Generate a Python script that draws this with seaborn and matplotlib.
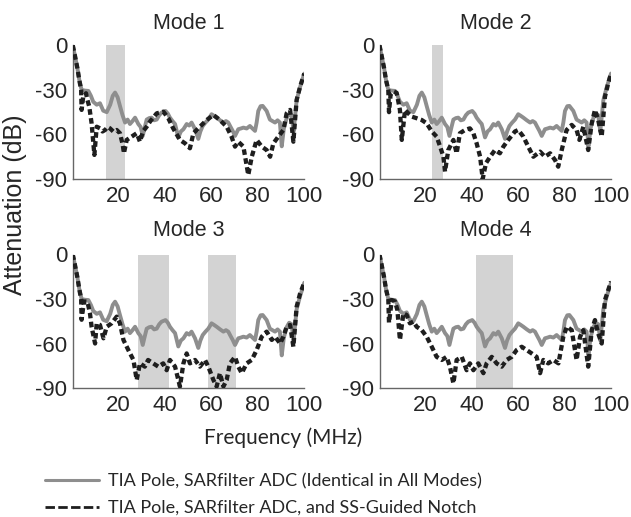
import numpy as np
import pandas as pd
import seaborn as sns
import matplotlib.pyplot as plt
from matplotlib.lines import Line2D

# gray curve: TIA pole + SARfilter ADC, same in every mode
ref_freq = [0.4, 1.4, 2.4, 3.2, 4.2, 5.6, 7.1, 8.2, 9.2, 10.7, 12.1, 13.5, 15, 16.5, 17.6, 18.6,
            19.7, 20.7, 21.8, 22.9, 24, 25, 26.1, 27.2, 28.6, 29.6, 30.5, 31.4, 32.2, 33.3, 34.3,
            35.4, 36.5, 37.6, 38.6, 40.3, 41.3, 42.2, 43.3, 44.4, 45.8, 46.9, 48, 49.4, 50.5,
            51.5, 53, 54.4, 55.3, 56.3, 57.5, 58.7, 60.1, 61.2, 62.3, 63.8, 65.2, 66.3, 67.3,
            68.3, 69.2, 70.2, 71.6, 72.7, 73.8, 75.2, 76.6, 77.7, 78.8, 79.5, 80.2, 81.2, 82.1,
            83.8, 85.2, 86.3, 87.4, 88.5, 89.5, 90.3, 91.2, 92.4, 93.5, 94.5, 95.4, 96.7, 98.2, 100]
ref_atten = [0, -7.6, -15.5, -23.3, -30, -30.5, -30.7, -34, -38, -40, -39, -44, -45, -40, -34, -31.8,
             -35, -40.8, -47, -52, -50, -53, -51, -48.7, -53, -55, -61, -55, -50, -49, -48.7,
             -50.5, -50, -47, -45.3, -44.2, -46, -48.7, -51, -53, -62, -58, -56.5, -53, -54,
             -52, -56.5, -63, -58, -54.3, -52, -50, -46.4, -47.5, -48.7, -50.5, -52, -51, -52,
             -55, -57.6, -61, -56.5, -56, -55.4, -56, -54.3, -56, -57.6, -52, -44.2, -41, -40.8,
             -44.2, -50, -51, -52, -50.5, -52, -68, -56, -49, -46, -47, -58, -37, -28, -19]

# black dashed curves: with SS-guided notch
mode1_freq = [0.4, 1.4, 2.4, 3.2, 4, 4.2, 4.9, 6.1, 6.7, 7.5, 8.5, 9.7, 10.7, 12.1, 13.2, 14.3, 15.4,
              16.4, 17.8, 19.3, 20.7, 21.9, 22.4, 23.6, 25.7, 27.9, 29.3, 30.6, 32.2, 33.6, 36.5,
              39.4, 41.5, 43.6, 46.5, 48.7, 50.8, 52.3, 55.1, 58, 60.9, 63.7, 66.6, 68.7, 70.2,
              71.6, 73.8, 75.9, 77.4, 79.5, 81.7, 83.8, 85.3, 86.7, 88.8, 91, 92.4, 93.9, 95.3,
              96.7, 98.2, 100]
mode1_atten = [0, -7.6, -15.5, -23.3, -30, -43.5, -34.6, -32.3, -36.8, -41.3, -52.5, -73.8, -54.8,
               -55.9, -58, -57, -55, -55.9, -58, -57, -59.2, -67, -72.7, -63.7, -61.5, -59.2, -64.9,
               -58, -54.8, -51.4, -45.8, -44.7, -49.1, -55.9, -63.7, -66, -69.3, -59.2, -54.8,
               -50.3, -46.9, -50.3, -54.8, -61.5, -68.2, -64.9, -68.2, -87.3, -75, -63.7, -68.2,
               -70.5, -75, -66, -61.5, -57, -45.8, -43.5, -64.9, -36.8, -27.8, -19]

mode2_freq = [0.4, 1.4, 2.4, 3.2, 4.2, 4.5, 5.2, 6.4, 7.8, 9.2, 10, 11.4, 12.8, 14.3, 16.4, 18.6, 20.7,
              22.9, 25, 26.5, 27.9, 28.6, 30, 32.2, 33.6, 35, 37.2, 39.3, 40.8, 42.2, 43.7, 44.8,
              46.2, 48, 50.1, 52.2, 53.7, 55.8, 58.7, 60.1, 62.3, 64.4, 66.6, 69.5, 71.6, 73.8,
              75.9, 77.3, 78.8, 80.9, 83.1, 85.2, 86.4, 88.1, 90.2, 91.7, 93.1, 94.5, 96, 97.4,
              98.8, 100]
mode2_atten = [0, -7.6, -15.5, -23.3, -30, -45, -33, -31, -32, -43.5, -63.7, -43.5, -45.8, -48, -49.1,
               -50.3, -52.5, -58, -61.5, -68.2, -75, -85, -70.5, -63.7, -72.7, -59.2, -57, -55.9,
               -59.2, -66, -75, -90, -79.4, -75, -70.5, -72.7, -68.2, -63.7, -58, -57, -61.5,
               -68.2, -75, -71.6, -75, -72.7, -77.2, -81.7, -70.5, -57, -53.6, -57, -63.7, -54.8,
               -70.5, -52.5, -43.5, -50.3, -61.5, -34.6, -25.6, -19]

mode3_freq = [0.4, 1.4, 2.4, 3.2, 4, 4.2, 5.2, 6.7, 7.8, 8.5, 10, 10.7, 12.1, 13.6, 15, 17.1, 19.3,
              20.7, 22.2, 24.3, 26.5, 27.9, 29.3, 31.4, 32.8, 35, 37.2, 39.3, 40.8, 42.2, 44.4,
              46.5, 48, 49.4, 50.8, 53, 55.1, 57.3, 58.7, 60.9, 62.3, 63.7, 65.2, 66.6, 68, 70.2,
              71.6, 73.1, 75.2, 77.4, 79.5, 81.7, 83.8, 86, 87.4, 89.6, 91, 92.4, 93.9, 95.3,
              96.7, 98.2, 100]
mode3_atten = [0, -7.6, -15.5, -23.3, -30, -44, -31.7, -31.7, -39.7, -48.7, -60, -46.4, -47.5, -56.5,
               -48.7, -46.4, -41.9, -46.4, -57.6, -64.4, -71.1, -84.6, -73.4, -75.6, -71.1, -73.4,
               -75.6, -73.4, -78, -71.1, -75.6, -89, -73.4, -66.7, -73.4, -71.1, -75.6, -71.1,
               -75.6, -84.6, -89, -80, -89, -84.6, -73.4, -69, -75.6, -80, -73.4, -71.1, -64.4,
               -55.4, -52, -57.6, -55.4, -60, -55.4, -48.7, -47.5, -62.2, -35.2, -26.2, -19]

mode4_freq = [0.4, 1.4, 2.4, 3.2, 4.2, 4.5, 5.7, 7.1, 8.1, 9.2, 10.7, 12.1, 13.5, 15, 16.4, 18.6, 20.7,
              22.9, 25, 27.2, 29.3, 30.7, 32.2, 33.6, 35.8, 37.9, 39.3, 40.8, 42.9, 45.1, 46.5,
              48.7, 50.8, 53, 55.1, 57.3, 59.4, 61.6, 63.7, 65.9, 68, 69.5, 70.9, 73, 75.2, 77.4,
              79.5, 81, 83.1, 85.2, 86.7, 88.1, 90.2, 91.7, 93.1, 94.5, 96, 97.4, 98.8, 100]
mode4_atten = [0, -7.6, -15.5, -23.3, -30, -46, -30.7, -31.7, -37.4, -57.6, -39.7, -40.8, -46.4, -45.3,
               -48.7, -51, -55.4, -62.2, -69, -71.1, -69, -75.6, -86.9, -71.1, -69, -78, -73.4,
               -78, -73.4, -80, -73.4, -69, -73.4, -75.6, -71.1, -69, -64.4, -62.2, -64.4, -66.7,
               -69, -80, -71.1, -73.4, -71.1, -73.4, -55.4, -48.7, -51, -71.1, -55.4, -51, -75.6,
               -51, -44.2, -53.3, -60, -30.7, -24, -18.3]

mode_names = ["Mode 1", "Mode 2", "Mode 3", "Mode 4"]
notch_freqs = [[(14.7, 22.9)], [(22.9, 27.9)], [(28.6, 41.9), (58.7, 70.5)], [(41.9, 58.0)]]
notch_series = [(mode1_freq, mode1_atten), (mode2_freq, mode2_atten),
                (mode3_freq, mode3_atten), (mode4_freq, mode4_atten)]

sns.set_style("white")
plt.rcParams["font.family"] = ["Liberation Sans", "DejaVu Sans"]
plt.rcParams["axes.unicode_minus"] = False

fig = plt.figure(figsize=(6.31, 5.17), dpi=100)
W, H = 631, 517
# axes boxes in pixels: left, top, right, bottom
boxes = [(73, 45.3, 304.3, 179), (379.7, 45.3, 611, 179),
         (73, 254.5, 304.3, 388), (379.7, 254.5, 611, 388)]

ref_df = pd.DataFrame({"freq": ref_freq, "atten": ref_atten})
gray = "#8e8e8e"
ink = "#1e1e1e"

for i, name in enumerate(mode_names):
    l, t, r, b = boxes[i]
    ax = fig.add_axes([l / W, 1 - b / H, (r - l) / W, (b - t) / H])
    for lo, hi in notch_freqs[i]:
        ax.axvspan(lo, hi, color="#d3d3d3", lw=0, zorder=0)
    sns.lineplot(data=ref_df, x="freq", y="atten", ax=ax, color=gray, linewidth=2.8,
                 estimator=None, sort=False, zorder=2)
    fx, fy = notch_series[i]
    sns.lineplot(x=fx, y=fy, ax=ax, color=ink, linewidth=3.1, estimator=None, sort=False,
                 linestyle=(0, (1.3, 0.8)), zorder=3)
    ax.set_xlim(0.5, 100)
    ax.set_ylim(-90, 0)
    ax.set_xticks([20, 40, 60, 80, 100])
    ax.set_yticks([0, -30, -60, -90])
    ax.set_xlabel("")
    ax.set_ylabel("")
    ax.tick_params(direction="in", length=3, width=0.8, color="#555555",
                   labelsize=16, pad=4)
    ax.tick_params(axis="x", pad=5)
    for side in ["top", "right"]:
        ax.spines[side].set_visible(False)
    for side in ["left", "bottom"]:
        ax.spines[side].set_color("#666666")
        ax.spines[side].set_linewidth(1.0)
    ax.set_title(name, fontsize=15.5, pad=12 if i < 2 else 13)

fig.text(15 / W, 1 - 205 / H, "Attenuation (dB)", rotation=90, ha="center", va="center",
         fontsize=18)
fig.text(283 / W, 1 - 438 / H, "Frequency (MHz)", ha="center", va="center",
         fontsize=15, family=["Lato", "DejaVu Sans"])

handles = [Line2D([], [], color=gray, lw=2.2),
           Line2D([], [], color=ink, lw=2.0, linestyle=(0, (3.4, 1.2)))]
labels = ["TIA Pole, SARfilter ADC (Identical in All Modes)",
          "TIA Pole, SARfilter ADC, and SS-Guided Notch"]
fig.legend(handles, labels, loc="upper left", bbox_to_anchor=(45 / W, 1 - 473 / H),
           frameon=False, borderpad=0, borderaxespad=0, handlelength=3.0,
           handletextpad=0.5, labelspacing=0.6,
           prop={"family": ["Lato", "DejaVu Sans"], "size": 13})

fig.savefig("out.png", dpi=100)
